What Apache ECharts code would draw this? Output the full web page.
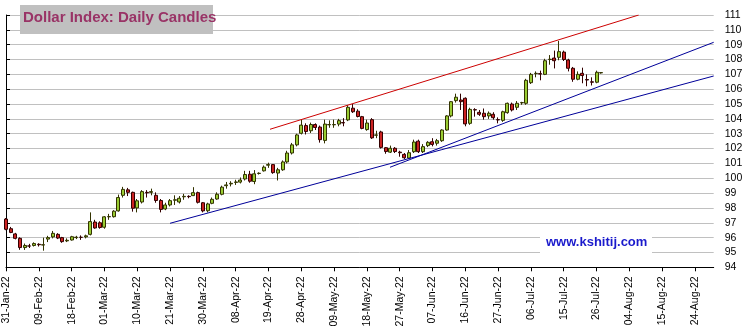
<!DOCTYPE html>
<html><head><meta charset="utf-8">
<script src="https://cdn.jsdelivr.net/npm/echarts@6/dist/echarts.min.js"></script>
<style>html,body{margin:0;padding:0;background:#fff}#c{width:753px;height:334px}</style>
</head><body><div id="c"></div>
<script>
// x-axis: weekdays from 31-Jan-22 (index 0) to 30-Aug-22 (index 151); label every 7th weekday
const axisDayCount = 152;
const tickLabels = ['31-Jan-22','09-Feb-22','18-Feb-22','01-Mar-22','10-Mar-22','21-Mar-22','30-Mar-22','08-Apr-22','19-Apr-22','28-Apr-22','09-May-22','18-May-22','27-May-22','07-Jun-22','16-Jun-22','27-Jun-22','06-Jul-22','15-Jul-22','26-Jul-22','04-Aug-22','15-Aug-22','24-Aug-22'];

const opens = [97.25,96.60,96.25,95.95,95.33,95.44,95.47,95.55,95.50,95.90,96.05,96.22,96.00,95.78,95.84,96.00,96.02,96.05,96.22,97.05,
97.00,96.70,97.40,97.41,97.80,98.85,99.22,99.05,98.00,98.40,99.05,99.05,98.85,98.50,97.93,98.20,98.52,98.40,98.75,98.78,
98.83,99.03,98.35,97.81,98.31,98.60,98.92,99.50,99.62,99.72,99.74,99.95,100.27,99.78,100.32,100.50,100.88,100.92,100.35,100.57,
101.10,101.70,102.25,103.03,103.55,103.20,103.62,103.45,102.55,103.60,103.60,103.65,103.75,103.93,104.72,104.52,104.15,103.28,103.95,102.90,
103.12,102.06,101.76,102.02,101.76,101.61,101.36,101.79,102.50,101.79,102.20,102.46,102.36,102.53,103.25,104.20,105.23,105.27,105.39,103.70,
104.62,104.44,104.38,104.20,104.31,103.95,103.90,104.42,105.00,104.78,105.08,105.05,106.44,107.05,107.05,107.00,108.00,108.10,108.15,108.50,
107.97,107.41,106.67,107.07,106.65,106.50,106.47,107.10];
const highs = [97.32,96.72,96.32,96.02,95.60,95.58,95.68,95.62,96.00,96.12,96.45,96.30,96.05,95.95,96.12,96.12,96.15,96.20,97.70,97.20,
97.10,97.45,97.60,97.85,98.90,99.42,99.35,99.10,98.60,99.20,99.20,99.30,99.05,98.60,98.35,98.60,98.85,98.80,98.95,98.85,
99.40,99.10,98.40,98.35,98.70,99.05,99.50,99.75,99.80,99.90,100.05,100.50,100.50,100.55,100.40,100.86,101.05,100.95,100.70,101.20,
101.85,102.38,103.00,103.93,103.70,103.75,103.70,103.55,103.95,103.90,103.95,104.00,104.05,104.92,105.00,104.65,104.20,103.95,104.05,103.20,
103.20,102.10,102.20,102.10,101.85,101.70,101.90,102.60,102.60,102.30,102.50,102.70,102.65,103.30,104.25,105.20,105.70,105.70,105.45,104.75,
104.72,104.60,104.70,104.50,104.45,104.10,104.55,105.10,105.10,105.20,105.15,106.70,107.10,107.20,107.25,108.05,108.30,108.60,109.25,108.60,
108.05,107.50,107.20,107.45,107.00,106.80,107.25,107.15];
const lows = [96.50,96.30,95.88,95.18,95.17,95.30,95.40,95.40,95.12,95.70,95.95,95.90,95.65,95.70,95.80,95.90,95.85,95.95,96.15,96.60,
96.60,96.60,97.20,97.35,97.75,98.70,98.80,97.75,97.70,98.30,98.70,98.85,98.35,97.70,97.85,98.10,98.20,98.30,98.55,98.65,
98.80,98.30,97.70,97.70,98.25,98.55,98.85,99.30,99.45,99.55,99.65,99.85,99.70,99.60,100.25,100.45,100.70,100.30,99.85,100.50,
101.00,101.60,102.15,102.95,102.95,103.05,103.25,102.40,102.35,103.40,103.40,103.50,103.50,103.85,104.40,104.10,103.30,103.20,102.65,102.70,
102.00,101.65,101.70,101.70,101.45,101.30,101.30,101.70,101.70,101.70,102.10,102.15,102.20,102.45,103.20,104.10,105.10,104.60,103.50,103.60,
104.15,104.20,103.95,104.00,103.95,103.70,103.80,104.35,104.50,104.60,104.95,104.95,106.35,106.80,106.60,106.95,107.65,107.40,107.95,107.90,
107.20,106.50,106.60,106.40,106.20,106.25,106.40,107.05];
const closes = [96.56,96.35,95.95,95.33,95.47,95.43,95.60,95.52,95.52,96.00,96.29,95.97,95.73,95.82,96.06,96.03,96.02,96.12,97.08,96.65,
96.68,97.40,97.42,97.78,98.70,99.25,99.05,97.98,98.48,99.10,99.02,99.10,98.50,97.90,98.20,98.49,98.55,98.65,98.78,98.76,
99.03,98.38,97.80,98.27,98.58,98.92,99.40,99.55,99.66,99.75,99.88,100.25,99.80,100.30,100.34,100.75,100.92,100.38,100.57,101.10,
101.70,102.25,102.92,103.58,103.15,103.62,103.42,102.60,103.65,103.62,103.62,103.88,103.73,104.78,104.48,104.16,103.36,103.72,102.72,102.92,
102.08,101.80,102.02,101.80,101.72,101.38,101.72,102.44,101.79,102.13,102.42,102.28,102.53,103.25,104.20,105.16,105.46,105.16,103.66,104.64,
104.60,104.31,104.15,104.38,104.08,103.93,104.48,105.05,104.60,105.05,105.10,106.60,107.00,107.07,107.02,107.92,108.02,107.92,108.53,108.00,
107.41,106.67,107.00,106.92,106.62,106.47,107.14,107.12];

// trend lines: [dayIndex, value] end points
const redTrend = [[56.33, 103.30], [135.0, 111.0]];
const blueTrendLower = [[35.0, 96.965], [151.0, 106.89]];
const blueTrendUpper = [[81.93, 100.74], [151.0, 109.16]];

const categories = [];
for (let i = 0; i < axisDayCount; i++) categories.push(String(i));
const candles = opens.map((o, i) => [o, closes[i], lows[i], highs[i]]);

const chart = echarts.init(document.getElementById('c'), null, {renderer: 'canvas'});
const FONT = 'Arial, "Liberation Sans", sans-serif';
chart.setOption({
  animation: false,
  backgroundColor: '#ffffff',
  grid: {left: 6, right: 39.3, top: 15, bottom: 66.7, containLabel: false},
  xAxis: [{
    type: 'category', data: categories, boundaryGap: false,
    axisLine: {show: true, lineStyle: {color: '#000', width: 1}},
    axisTick: {show: true, interval: 6, length: 4, lineStyle: {color: '#000'}},
    axisLabel: {
      interval: 6, rotate: 90, margin: 9, color: '#000', fontSize: 10.5, fontFamily: FONT,
      hideOverlap: false,
      formatter: (v, idx) => (idx % 7 === 0 && tickLabels[idx / 7]) ? tickLabels[idx / 7] : ''
    },
    splitLine: {show: false}
  }, {
    type: 'value', min: 0, max: axisDayCount - 1, show: false
  }],
  yAxis: {
    type: 'value', position: 'right', min: 94, max: 111, interval: 1,
    axisLine: {show: true, lineStyle: {color: '#000'}},
    axisTick: {show: true, length: 4, lineStyle: {color: '#000'}},
    axisLabel: {color: '#000', fontSize: 10.5, fontFamily: FONT, margin: 11},
    splitLine: {show: true, lineStyle: {color: '#c0c0c0', width: 1}}
  },
  series: [{
    type: 'candlestick', data: candles, xAxisIndex: 0, barWidth: 3.5,
    itemStyle: {color: '#99cc33', color0: '#cc2222', borderColor: '#333300', borderColor0: '#330000', borderWidth: 1}
  }, {
    type: 'line', xAxisIndex: 1, data: redTrend, symbol: 'none', lineStyle: {color: '#cc0000', width: 1}, z: 3
  }, {
    type: 'line', xAxisIndex: 1, data: blueTrendLower, symbol: 'none', lineStyle: {color: '#000099', width: 1}, z: 3
  }, {
    type: 'line', xAxisIndex: 1, data: blueTrendUpper, symbol: 'none', lineStyle: {color: '#000099', width: 1}, z: 3
  }],
  graphic: [
    {type: 'rect', left: 20, top: 5, shape: {width: 193, height: 29}, style: {fill: '#c0c0c0'}, z: 10},
    {type: 'text', left: 23, top: 10, style: {text: 'Dollar Index: Daily Candles', fill: '#993366', font: 'bold 15px Arial, "Liberation Sans", sans-serif'}, z: 11},
    {type: 'rect', left: 540, top: 229, shape: {width: 112, height: 29}, style: {fill: '#ffffff'}, z: 10},
    {type: 'text', left: 546, top: 236, style: {text: 'www.kshitij.com', fill: '#1a1acc', font: 'bold 13px Arial, "Liberation Sans", sans-serif'}, z: 11}
  ]
});
</script></body></html>
